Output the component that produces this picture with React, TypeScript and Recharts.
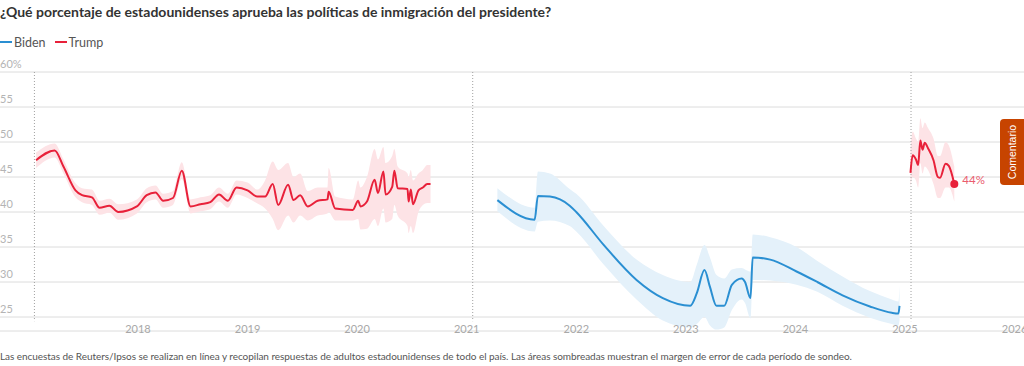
import React from 'react';
import {
    ComposedChart,
    Area,
    Line,
    XAxis,
    YAxis,
    CartesianGrid,
    ReferenceLine,
    ReferenceDot
} from 'recharts';

// Trump, first term (decimal year, approval %, margin of error low/high)
const trumpDates1 = [
    2017.07, 2017.24, 2017.32, 2017.43, 2017.49, 2017.58, 2017.65, 2017.74, 2017.82, 2017.99,
    2018.08, 2018.16, 2018.23, 2018.32, 2018.40, 2018.48, 2018.57, 2018.66, 2018.74, 2018.82,
    2018.90, 2019.00, 2019.09, 2019.16, 2019.23, 2019.28, 2019.37, 2019.42, 2019.48, 2019.55,
    2019.64, 2019.73, 2019.74, 2019.80, 2019.96, 2020.01, 2020.03, 2020.09, 2020.16, 2020.19,
    2020.24, 2020.26, 2020.32, 2020.34, 2020.37, 2020.46, 2020.47, 2020.49, 2020.51, 2020.56,
    2020.60, 2020.64, 2020.67
];
const trumpApproval1 = [
    47.4, 48.8, 46.5, 43.1, 42.4, 42.1, 40.6, 40.9, 40.0, 40.8,
    42.4, 42.8, 41.6, 42.0, 45.9, 40.8, 41.1, 41.4, 42.5, 41.6,
    43.5, 43.1, 42.2, 42.2, 44.0, 41.0, 43.9, 41.7, 42.4, 40.8,
    41.6, 41.8, 42.9, 40.5, 40.3, 41.6, 40.8, 41.5, 44.6, 42.7,
    45.8, 42.5, 43.6, 45.9, 43.4, 43.3, 41.5, 43.2, 41.1, 43.1,
    43.5, 44.0, 44.0
];
const trumpLow1 = [
    46.3, 47.8, 45.5, 42.1, 41.4, 41.0, 39.6, 39.9, 38.9, 39.8,
    41.4, 41.8, 40.6, 41.0, 44.7, 39.8, 40.1, 40.4, 41.5, 40.6,
    42.5, 42.0, 41.2, 40.5, 39.0, 37.4, 39.5, 38.5, 39.5, 38.8,
    39.5, 39.8, 40.0, 38.8, 38.8, 39.0, 37.5, 37.6, 39.0, 38.0,
    40.5, 38.5, 39.0, 41.0, 39.5, 38.0, 37.0, 38.0, 37.0, 40.0,
    41.0, 41.3, 41.3
];
const trumpHigh1 = [
    48.5, 49.8, 47.5, 44.1, 43.4, 43.2, 41.6, 41.9, 41.1, 41.8,
    43.4, 43.8, 42.6, 43.0, 47.1, 41.8, 42.1, 42.4, 43.5, 42.6,
    44.5, 44.2, 43.2, 44.5, 47.2, 46.0, 47.0, 45.0, 45.5, 43.0,
    43.5, 43.5, 46.3, 42.2, 41.8, 44.5, 43.5, 45.0, 49.0, 47.5,
    49.3, 47.0, 48.0, 49.0, 46.5, 45.5, 45.0, 46.0, 44.5, 45.5,
    46.0, 46.7, 46.7
];

// Biden
const bidenDates = [
    2021.28, 2021.62, 2021.65, 2021.76, 2021.94, 2022.00, 2022.25, 2022.55, 2022.79, 2023.04,
    2023.10, 2023.17, 2023.22, 2023.28, 2023.35, 2023.42, 2023.51, 2023.54, 2023.59, 2023.61,
    2023.77, 2024.01, 2024.20, 2024.43, 2024.68, 2024.88, 2024.94, 2024.95
];
const bidenApproval = [
    41.7, 38.9, 42.3, 42.2, 40.9, 40.0, 35.3, 30.3, 27.7, 26.6,
    28.4, 31.7, 29.3, 26.6, 26.6, 29.6, 30.5, 30.0, 27.7, 33.5,
    33.2, 31.5, 30.0, 28.1, 26.5, 25.6, 25.5, 26.6
];
const bidenLow = [
    40.1, 37.2, 38.6, 38.8, 38.0, 37.2, 32.5, 27.5, 24.5, 23.5,
    24.0, 25.0, 23.8, 23.2, 23.5, 26.0, 27.5, 27.0, 24.8, 30.3,
    30.2, 29.6, 28.6, 26.6, 24.9, 24.0, 23.8, 24.5
];
const bidenHigh = [
    43.4, 40.6, 45.8, 45.5, 43.3, 42.6, 38.0, 33.2, 31.0, 30.0,
    32.5, 35.3, 33.5, 31.0, 30.5, 31.8, 32.0, 31.8, 31.5, 36.8,
    36.4, 35.0, 33.0, 30.8, 28.7, 27.5, 27.2, 29.5
];

// Trump, second term
const trumpDates2 = [
    2025.05, 2025.07, 2025.10, 2025.12, 2025.14, 2025.16, 2025.18, 2025.21, 2025.26, 2025.30,
    2025.32, 2025.37, 2025.40, 2025.45
];
const trumpApproval2 = [45.6, 48.1, 47.5, 46.7, 50.2, 48.9, 49.9, 49.1, 47.4, 45.0, 44.9, 46.9, 46.6, 44.0];
const trumpLow2 = [43.5, 45.0, 44.5, 43.5, 47.0, 45.5, 46.5, 46.0, 44.0, 42.0, 42.0, 43.5, 43.5, 41.5];
const trumpHigh2 = [49.0, 51.5, 50.5, 50.0, 53.4, 52.0, 52.8, 52.0, 50.5, 48.0, 48.0, 50.0, 49.5, 46.5];

const yearTicks = [2018, 2019, 2020, 2021, 2022, 2023, 2024, 2025, 2026];
const pctTicks = [25, 30, 35, 40, 45, 50, 55, 60];
const inaugurations = [2017.055, 2021.055, 2025.055];

const TRUMP = '#e8213a';
const TRUMP_BAND = '#fde3e6';
const BIDEN = '#2a8fd2';
const BIDEN_BAND = '#e4f1fa';
const FONT = "Lato, 'Noto Sans', sans-serif";

const toRows = (dates: number[], vals: number[], lows: number[], highs: number[]) =>
    dates.map((d, i) => ({ date: d, value: vals[i], band: [lows[i], highs[i]] }));

const trump1Rows = toRows(trumpDates1, trumpApproval1, trumpLow1, trumpHigh1);
const bidenRows = toRows(bidenDates, bidenApproval, bidenLow, bidenHigh);
const trump2Rows = toRows(trumpDates2, trumpApproval2, trumpLow2, trumpHigh2);

// labels sit left-aligned just above their gridline
const YTick = ({ y, payload }: any) => (
    <text x={0} y={y - 4} textAnchor="start" fill="#b4b4b4" fontSize={11} fontFamily={FONT}>
        {payload.value === 60 ? '60%' : payload.value}
    </text>
);

const XTick = ({ x, y, payload }: any) => (
    <text x={x} y={y + 2} textAnchor="middle" fill="#a8a8a8" fontSize={11} fontFamily={FONT}>
        {payload.value}
    </text>
);

const EndLabel = ({ viewBox }: any) => (
    <text x={viewBox.x + 12} y={viewBox.y + 4} fill="#ea5b6d" fontSize={11.5} fontFamily={FONT}>
        {trumpApproval2[trumpApproval2.length - 1]}%
    </text>
);

const LegendItem = ({ color, label }: { color: string; label: string }) => (
    <span style={{ display: 'inline-flex', alignItems: 'center', marginRight: 9 }}>
        <span style={{ width: 12, height: 2, background: color, display: 'inline-block', marginRight: 2 }} />
        {label}
    </span>
);

const App = () => {
    return (
        <div style={{ position: 'absolute', left: 0, top: 0, width: 1024, height: 366, fontFamily: FONT, background: '#fff', overflow: 'hidden' }}>
            <div style={{ position: 'absolute', left: 0, top: 3, fontSize: 14, fontWeight: 700, color: '#333', whiteSpace: 'nowrap' }}>
                ¿Qué porcentaje de estadounidenses aprueba las políticas de inmigración del presidente?
            </div>
            <div style={{ position: 'absolute', left: 0, top: 31, fontSize: 12.5, color: '#555', whiteSpace: 'nowrap' }}>
                <LegendItem color={BIDEN} label="Biden" />
                <LegendItem color={TRUMP} label="Trump" />
            </div>

            <div style={{ position: 'absolute', left: 0, top: 0 }}>
                <ComposedChart width={1024} height={366} margin={{ top: 72, right: 0, left: -1, bottom: 5 }}>
                    <CartesianGrid vertical={false} stroke="#dcdcdc" />
                    <XAxis
                        type="number"
                        dataKey="date"
                        domain={[2016.741, 2026.086]}
                        ticks={yearTicks}
                        allowDataOverflow
                        axisLine={false}
                        tickLine={false}
                        tickSize={0}
                        tickMargin={0}
                        height={30}
                        interval={0}
                        tick={<XTick />}
                    />
                    <YAxis
                        type="number"
                        domain={[23, 60]}
                        ticks={pctTicks}
                        allowDataOverflow
                        width={1}
                        axisLine={false}
                        tickLine={false}
                        interval={0}
                        tick={<YTick />}
                    />

                    {inaugurations.map(d => (
                        <ReferenceLine
                            key={d}
                            segment={[{ x: d, y: 60 }, { x: d, y: 24.4 }]}
                            stroke="#a0a0a0"
                            strokeDasharray="1 2"
                        />
                    ))}

                    <Area data={trump1Rows} dataKey="band" type="monotone" stroke="none" fill={TRUMP_BAND} fillOpacity={1} isAnimationActive={false} />
                    <Area data={bidenRows} dataKey="band" type="monotone" stroke="none" fill={BIDEN_BAND} fillOpacity={1} isAnimationActive={false} />
                    <Area data={trump2Rows} dataKey="band" type="monotone" stroke="none" fill={TRUMP_BAND} fillOpacity={1} isAnimationActive={false} />

                    <Line data={trump1Rows} dataKey="value" type="monotone" stroke={TRUMP} strokeWidth={2} dot={false} isAnimationActive={false} />
                    <Line data={bidenRows} dataKey="value" type="monotone" stroke={BIDEN} strokeWidth={2} dot={false} isAnimationActive={false} />
                    <Line data={trump2Rows} dataKey="value" type="monotone" stroke={TRUMP} strokeWidth={2} dot={false} isAnimationActive={false} />

                    <ReferenceDot
                        x={trumpDates2[trumpDates2.length - 1]}
                        y={trumpApproval2[trumpApproval2.length - 1]}
                        r={4}
                        fill={TRUMP}
                        stroke="none"
                        label={<EndLabel />}
                    />
                </ComposedChart>
            </div>

            <div style={{ position: 'absolute', left: 0, top: 350, fontSize: 10, color: '#555', whiteSpace: 'nowrap', letterSpacing: -0.05 }}>
                Las encuestas de Reuters/Ipsos se realizan en línea y recopilan respuestas de adultos estadounidenses de todo el país. Las áreas sombreadas muestran el margen de error de cada período de sondeo.
            </div>

            <div style={{
                position: 'absolute', left: 1000, top: 119, width: 24, height: 66, background: '#c74400',
                borderRadius: '4px 0 0 4px', display: 'flex', alignItems: 'center', justifyContent: 'center'
            }}>
                <span style={{ transform: 'rotate(-90deg)', color: '#fff', fontSize: 10.5, fontFamily: "Arial, 'Liberation Sans', sans-serif", whiteSpace: 'nowrap' }}>
                    Comentario
                </span>
            </div>
        </div>
    );
};

export default App;
